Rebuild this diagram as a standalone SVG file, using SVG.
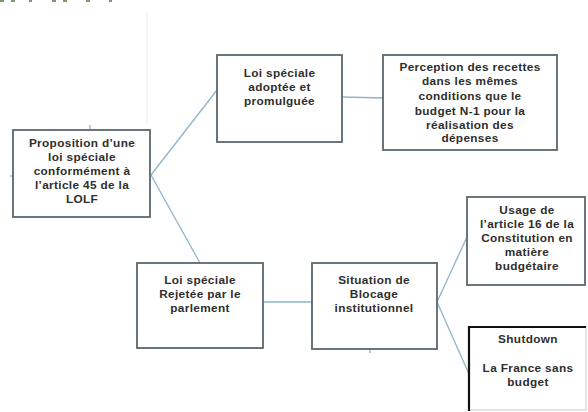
<svg xmlns="http://www.w3.org/2000/svg" width="588" height="412" viewBox="0 0 588 412">
<style>
.box{fill:#ffffff;stroke:#5b6670;stroke-width:1.8}
.lbl{font-family:"Liberation Sans",Arial,sans-serif;font-weight:bold;font-size:11.8px;letter-spacing:0.35px;fill:#2e2e2e;text-anchor:middle}
.con{stroke:#8fb5c6;stroke-width:1.3;fill:none}
.frag{fill:#7d9a6a}
</style>
<rect width="588" height="412" fill="#ffffff"/>
<g id="fragments">
<rect class="frag" x="0" y="0" width="4" height="2"/>
<rect class="frag" x="11" y="0" width="4" height="2"/>
<rect class="frag" x="29" y="0" width="3" height="2"/>
<rect class="frag" x="52" y="0" width="4" height="2"/>
<rect class="frag" x="63" y="0" width="4" height="2"/>
<rect class="frag" x="86" y="0" width="4" height="2"/>
<rect class="frag" x="109" y="0" width="3" height="2"/>
<line x1="147" y1="12" x2="147" y2="125" stroke="#eeeeee" stroke-width="1"/>
</g>
<g id="connectors">
<line class="con" x1="151" y1="175" x2="217" y2="90"/>
<line class="con" x1="151" y1="175" x2="200" y2="263"/>
<line class="con" x1="342" y1="97" x2="383" y2="98"/>
<line class="con" x1="263" y1="302" x2="312" y2="302"/>
<line class="con" x1="437" y1="302" x2="467" y2="237"/>
<line class="con" x1="437" y1="302" x2="469" y2="374"/>
<line class="con" x1="90" y1="125" x2="90" y2="129"/>
<line class="con" x1="10" y1="176" x2="13" y2="176"/>
<line class="con" x1="370" y1="349" x2="370" y2="353"/>
</g>
<g id="n1">
<rect class="box" x="13" y="130" width="137" height="87"/>
<text class="lbl" x="82" y="147">Proposition d’une</text>
<text class="lbl" x="82" y="161">loi spéciale</text>
<text class="lbl" x="82" y="175">conformément à</text>
<text class="lbl" x="82" y="189">l’article 45 de la</text>
<text class="lbl" x="82" y="203">LOLF</text>
</g>
<g id="n2">
<rect class="box" x="217" y="55" width="125" height="87"/>
<text class="lbl" x="279.5" y="77">Loi spéciale</text>
<text class="lbl" x="279.5" y="91">adoptée et</text>
<text class="lbl" x="279.5" y="105">promulguée</text>
</g>
<g id="n3">
<rect class="box" x="383" y="55" width="174" height="95"/>
<text class="lbl" x="470" y="71">Perception des recettes</text>
<text class="lbl" x="470" y="85">dans les mêmes</text>
<text class="lbl" x="470" y="100">conditions que le</text>
<text class="lbl" x="470" y="115">budget N-1 pour la</text>
<text class="lbl" x="470" y="129">réalisation des</text>
<text class="lbl" x="470" y="142">dépenses</text>
</g>
<g id="n4">
<rect class="box" x="137" y="263" width="126" height="85"/>
<text class="lbl" x="200" y="284">Loi spéciale</text>
<text class="lbl" x="200" y="298">Rejetée par le</text>
<text class="lbl" x="200" y="312">parlement</text>
</g>
<g id="n5">
<rect class="box" x="312" y="263" width="125" height="86"/>
<text class="lbl" x="374" y="284">Situation de</text>
<text class="lbl" x="374" y="298">Blocage</text>
<text class="lbl" x="374" y="312">institutionnel</text>
</g>
<g id="n6">
<rect class="box" x="467" y="197" width="118" height="88"/>
<text class="lbl" x="527" y="214">Usage de</text>
<text class="lbl" x="527" y="228">l’article 16 de la</text>
<text class="lbl" x="527" y="242">Constitution en</text>
<text class="lbl" x="527" y="256">matière</text>
<text class="lbl" x="527" y="270">budgétaire</text>
</g>
<g id="n7">
<rect x="469" y="327" width="117" height="83" fill="#ffffff" stroke="#c8c8c8" stroke-width="1"/>
<path d="M469,411 V327 H586" fill="none" stroke="#111111" stroke-width="2.2"/>
<text class="lbl" x="528" y="343">Shutdown</text>
<text class="lbl" x="528" y="372">La France sans</text>
<text class="lbl" x="528" y="386">budget</text>
</g>
</svg>
